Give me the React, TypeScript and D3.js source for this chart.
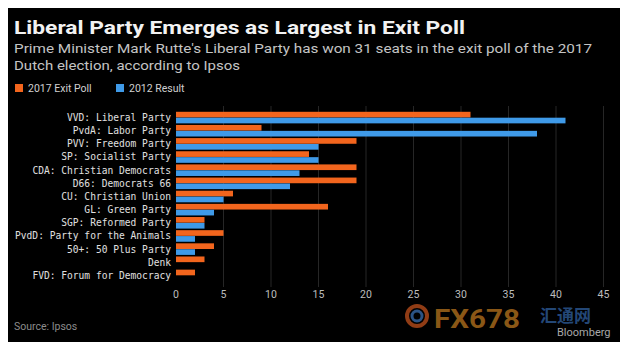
import React, { useEffect, useRef } from 'react';
import * as d3 from 'd3';

const parties = [
  'VVD: Liberal Party',
  'PvdA: Labor Party',
  'PVV: Freedom Party',
  'SP: Socialist Party',
  'CDA: Christian Democrats',
  'D66: Democrats 66',
  'CU: Christian Union',
  'GL: Green Party',
  'SGP: Reformed Party',
  'PvdD: Party for the Animals',
  '50+: 50 Plus Party',
  'Denk',
  'FVD: Forum for Democracy',
];
const exitPoll2017 = [31, 9, 19, 14, 19, 19, 6, 16, 3, 5, 4, 3, 2];
const result2012: (number | null)[] = [41, 38, 15, 15, 13, 12, 5, 4, 3, 2, 2, null, null];
const seriesNames = ['2017 Exit Poll', '2012 Result'];
const seriesColors = ['#f2651d', '#3f9ae8'];
const xTicks = [0, 5, 10, 15, 20, 25, 30, 35, 40, 45];

const W = 628;
const H = 350;
const SANS = 'Roboto, "Liberation Sans", sans-serif';
const MONO = '"DejaVu Sans Mono", "Liberation Mono", monospace';

const App: React.FC = () => {
  const svgRef = useRef<SVGSVGElement>(null);

  useEffect(() => {
    if (!svgRef.current) return;
    const svg = d3.select(svgRef.current);
    svg.selectAll('*').remove();

    svg.append('rect').attr('width', W).attr('height', H).attr('fill', '#000');

    // Title block
    svg.append('text')
      .attr('x', 14).attr('y', 34)
      .attr('fill', '#f2f2f2')
      .attr('font-family', SANS).attr('font-weight', 'bold').attr('font-size', 19)
      .attr('textLength', 451).attr('lengthAdjust', 'spacingAndGlyphs')
      .text('Liberal Party Emerges as Largest in Exit Poll');

    const sub = [
      { t: "Prime Minister Mark Rutte's Liberal Party has won 31 seats in the exit poll of the 2017", w: 578 },
      { t: 'Dutch election, according to Ipsos', w: 226 },
    ];
    sub.forEach((s, i) => {
      svg.append('text')
        .attr('x', 14).attr('y', 53 + i * 17)
        .attr('fill', '#c4c4c4')
        .attr('font-family', SANS).attr('font-size', 13.5)
        .attr('textLength', s.w).attr('lengthAdjust', 'spacingAndGlyphs')
        .text(s.t);
    });

    // Legend
    const legendX = [15, 116];
    seriesNames.forEach((name, i) => {
      svg.append('rect')
        .attr('x', legendX[i]).attr('y', 84)
        .attr('width', 8).attr('height', 8)
        .attr('fill', seriesColors[i]);
      svg.append('text')
        .attr('x', legendX[i] + 13).attr('y', 92)
        .attr('fill', '#d0d0d0')
        .attr('font-family', SANS).attr('font-size', 10.5)
        .text(name);
    });

    // Scales
    const x = d3.scaleLinear().domain([0, 45]).range([176, 603.5]);
    const y = d3.scaleBand<string>().domain(parties).range([111, 282]).paddingInner(0.12).paddingOuter(0.06);
    const sub2 = d3.scaleBand<string>().domain(seriesNames).range([0, y.bandwidth()]).paddingInner(0.04);

    // Grid
    svg.append('g')
      .selectAll('line')
      .data(xTicks.filter(t => t > 0))
      .enter()
      .append('line')
      .attr('x1', d => x(d)).attr('x2', d => x(d))
      .attr('y1', 106).attr('y2', 287)
      .attr('stroke', '#262626')
      .attr('stroke-width', 1);

    // Bars
    const rows = parties.map((p, i) => ({ p, vals: [exitPoll2017[i], result2012[i]] }));
    const g = svg.append('g');
    rows.forEach(r => {
      r.vals.forEach((v, j) => {
        if (v == null) return;
        g.append('rect')
          .attr('x', x(0))
          .attr('y', (y(r.p) || 0) + (sub2(seriesNames[j]) || 0))
          .attr('width', x(v) - x(0))
          .attr('height', sub2.bandwidth())
          .attr('fill', seriesColors[j]);
      });
    });

    // Category labels
    svg.append('g')
      .selectAll('text')
      .data(parties)
      .enter()
      .append('text')
      .attr('x', 171)
      .attr('y', d => (y(d) || 0) + y.bandwidth() / 2)
      .attr('dy', '0.36em')
      .attr('text-anchor', 'end')
      .attr('fill', '#e0e0e0')
      .attr('font-family', MONO).attr('font-size', 9.6)
      .text(d => d);

    // X tick labels
    svg.append('g')
      .selectAll('text')
      .data(xTicks)
      .enter()
      .append('text')
      .attr('x', d => x(d))
      .attr('y', 298)
      .attr('text-anchor', 'middle')
      .attr('fill', '#bdbdbd')
      .attr('font-family', SANS).attr('font-size', 10.5)
      .text(d => d);

    // Source
    svg.append('text')
      .attr('x', 14).attr('y', 330)
      .attr('fill', '#8c8c8c')
      .attr('font-family', SANS).attr('font-size', 10.5)
      .text('Source: Ipsos');

    // Watermark
    const wm = svg.append('g').attr('opacity', 0.75);
    wm.append('circle').attr('cx', 417).attr('cy', 316).attr('r', 10)
      .attr('fill', 'none').attr('stroke', '#c0501c').attr('stroke-width', 4);
    wm.append('circle').attr('cx', 417).attr('cy', 316).attr('r', 5)
      .attr('fill', 'none').attr('stroke', '#3a6fb0').attr('stroke-width', 3);
    wm.append('text')
      .attr('x', 434).attr('y', 328)
      .attr('fill', '#b8741e')
      .attr('font-family', SANS).attr('font-weight', 'bold').attr('font-size', 26)
      .attr('textLength', 86).attr('lengthAdjust', 'spacingAndGlyphs')
      .text('FX678');
    wm.append('text')
      .attr('x', 540).attr('y', 322)
      .attr('fill', '#2f5f9e')
      .attr('font-family', '"Noto Sans CJK SC", sans-serif').attr('font-weight', 'bold').attr('font-size', 17)
      .text('汇通网');
    svg.append('text')
      .attr('x', 557).attr('y', 336)
      .attr('fill', '#a8a8a8')
      .attr('font-family', SANS).attr('font-size', 11)
      .text('Bloomberg');
  }, []);

  return (
    <div style={{ margin: -8, width: W, height: H, background: '#000' }}>
      <svg ref={svgRef} width={W} height={H} style={{ display: 'block' }} />
    </div>
  );
};

export default App;
